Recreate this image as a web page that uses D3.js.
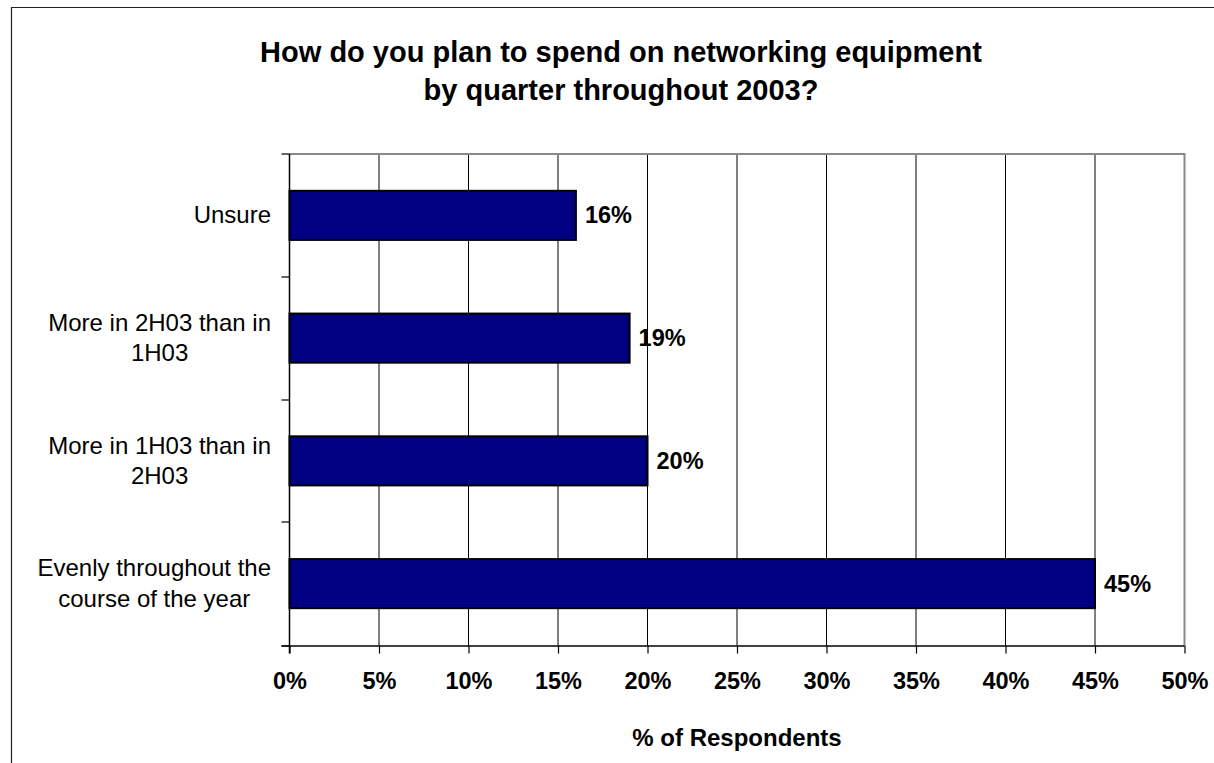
<!DOCTYPE html>
<html>
<head>
<meta charset="utf-8">
<script src="https://cdn.jsdelivr.net/npm/d3@7"></script>
<style>
  html, body { margin: 0; padding: 0; background: #fff; }
  svg { display: block; }
  text { font-family: Arial, "Liberation Sans", sans-serif; }
</style>
</head>
<body>
<svg id="chart" width="1214" height="763"></svg>
<script>
// Survey answers, listed top to bottom
const categories = [
  "Unsure",
  "More in 2H03 than in 1H03",
  "More in 1H03 than in 2H03",
  "Evenly throughout the course of the year"
];
const values = [16, 19, 20, 45];
const titleLines = [
  "How do you plan to spend on networking equipment",
  "by quarter throughout 2003?"
];
const xTicks = [0, 5, 10, 15, 20, 25, 30, 35, 40, 45, 50];
const xAxisTitle = "% of Respondents";

const svg = d3.select("#chart");
const W = 1214, H = 763;
const plot = { left: 289.5, right: 1184.5, top: 154, bottom: 645.5 };

// Outer frame (left and top edges)
svg.append("path")
  .attr("d", `M11.5,${H} V7.5 H${W}`)
  .attr("fill", "none").attr("stroke", "#222").attr("stroke-width", 1.2);

// Title
const title = svg.append("text")
  .attr("text-anchor", "middle")
  .attr("font-size", 29).attr("font-weight", "bold").attr("fill", "#000");
titleLines.forEach((t, i) => {
  title.append("tspan").attr("x", 621).attr("y", 61.5 + i * 38.5).text(t);
});

const x = d3.scaleLinear().domain([0, 50]).range([plot.left, plot.right]);
const y = d3.scaleBand().domain(categories)
  .range([plot.top, plot.bottom - 0.5])
  .paddingInner(0.6).paddingOuter(0.3);

// Vertical gridlines
svg.append("g").selectAll("line")
  .data(xTicks.filter(d => d > 0 && d < 50))
  .join("line")
  .attr("x1", d => x(d)).attr("x2", d => x(d))
  .attr("y1", plot.top).attr("y2", plot.bottom)
  .attr("stroke", "#000").attr("stroke-width", 1);

// Plot area border (top and right)
svg.append("path")
  .attr("d", `M${plot.left},${plot.top} H${plot.right} V${plot.bottom}`)
  .attr("fill", "none").attr("stroke", "#888").attr("stroke-width", 2);

// Bars
svg.append("g").selectAll("rect")
  .data(categories)
  .join("rect")
  .attr("x", x(0))
  .attr("y", d => y(d))
  .attr("width", (d, i) => x(values[i]) - x(0))
  .attr("height", y.bandwidth())
  .attr("fill", "#000080")
  .attr("stroke", "#000").attr("stroke-width", 2);

// Value labels
svg.append("g").selectAll("text")
  .data(categories)
  .join("text")
  .attr("x", (d, i) => x(values[i]) + 9)
  .attr("y", d => y(d) + y.bandwidth() / 2 + 8)
  .attr("font-size", 23.5).attr("font-weight", "bold").attr("fill", "#000")
  .text((d, i) => values[i] + "%");

// X axis
const xAxis = d3.axisBottom(x)
  .tickValues(xTicks)
  .tickSize(8)
  .tickPadding(14)
  .tickFormat(d => d + "%");
const gx = svg.append("g")
  .attr("transform", `translate(0,${plot.bottom})`)
  .call(xAxis);
gx.select(".domain").attr("d", `M${plot.left - 8},0.5H${plot.right}`)
  .attr("stroke", "#000").attr("stroke-width", 1.5);
gx.selectAll(".tick line").attr("stroke", "#000").attr("stroke-width", 1.2);
gx.selectAll(".tick text")
  .attr("font-family", "Arial, 'Liberation Sans', sans-serif")
  .attr("font-size", 23.5).attr("font-weight", "bold").attr("fill", "#000")
  .attr("dy", null).attr("y", 43);

// Y axis line with ticks at band boundaries
const bounds = categories.map(d => y(d) - y.step() * 0.3).concat([plot.bottom]);
svg.append("line")
  .attr("x1", plot.left).attr("x2", plot.left)
  .attr("y1", plot.top).attr("y2", plot.bottom + 8)
  .attr("stroke", "#000").attr("stroke-width", 1.5);
svg.append("g").selectAll("line")
  .data(bounds)
  .join("line")
  .attr("x1", plot.left - 8).attr("x2", plot.left)
  .attr("y1", d => Math.round(d)).attr("y2", d => Math.round(d))
  .attr("stroke", "#000").attr("stroke-width", 1.2);

// Category labels, wrapped, lines centred within a right-aligned block
const labelRight = 271;
const maxW = 240;
const measure = svg.append("text").attr("font-size", 24).attr("visibility", "hidden");
function wrap(str) {
  const words = str.split(" ");
  const lines = [];
  let cur = "";
  words.forEach(w => {
    const test = cur ? cur + " " + w : w;
    measure.text(test);
    if (measure.node().getComputedTextLength() > maxW && cur) {
      lines.push(cur); cur = w;
    } else cur = test;
  });
  if (cur) lines.push(cur);
  return lines;
}
const lh = 30.5;
categories.forEach(c => {
  const lines = wrap(c);
  const widths = lines.map(l => { measure.text(l); return measure.node().getComputedTextLength(); });
  const blockW = d3.max(widths);
  const cx = labelRight - blockW / 2;
  const cy = y(c) + y.bandwidth() / 2;
  const t = svg.append("text")
    .attr("text-anchor", "middle").attr("font-size", 24).attr("fill", "#000");
  lines.forEach((l, i) => {
    t.append("tspan").attr("x", cx)
      .attr("y", cy + 8 + (i - (lines.length - 1) / 2) * lh)
      .text(l);
  });
});
measure.remove();

// X axis title
svg.append("text")
  .attr("x", (plot.left + plot.right) / 2).attr("y", 746)
  .attr("text-anchor", "middle")
  .attr("font-size", 24).attr("font-weight", "bold").attr("fill", "#000")
  .text(xAxisTitle);
</script>
</body>
</html>
